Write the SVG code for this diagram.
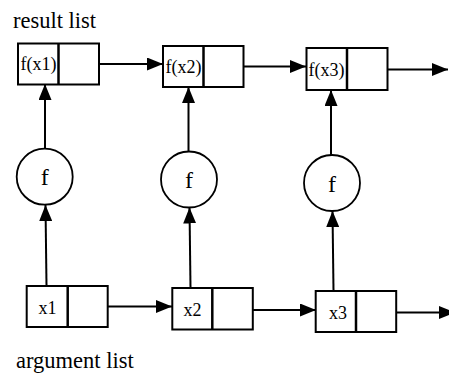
<svg xmlns="http://www.w3.org/2000/svg" width="449" height="375" viewBox="0 0 449 375">
  <style>
    .cell { fill: #fff; stroke: #000; stroke-width: 2; }
    .div { stroke: #000; stroke-width: 2.5; }
    .circ { fill: #fff; stroke: #000; stroke-width: 1.8; }
    .conn { stroke: #000; stroke-width: 2; fill: none; }
    text { font-family: "Times New Roman", "Liberation Serif", Tinos, "DejaVu Serif", serif; fill: #000; }
    .cap { font-size: 22.5px; }
    .box { font-size: 18px; text-anchor: middle; }
    .fn { font-size: 24px; text-anchor: middle; }
  </style>
  <defs>
    <marker id="ah" markerUnits="userSpaceOnUse" markerWidth="16" markerHeight="13" refX="16" refY="6.5" orient="auto">
      <path d="M0,0 L16,6.5 L0,13 z" fill="#000"/>
    </marker>
  </defs>
  <rect width="449" height="375" fill="#fff"/>

  <text class="cap" x="13" y="27.5">result list</text>
  <text class="cap" x="16" y="368">argument list</text>

  <g id="connectors">
    <line class="conn" x1="81" y1="64" x2="163" y2="64" marker-end="url(#ah)"/>
    <line class="conn" x1="226" y1="66.5" x2="306" y2="66.5" marker-end="url(#ah)"/>
    <line class="conn" x1="370" y1="69.5" x2="448" y2="69.5" marker-end="url(#ah)"/>
    <line class="conn" x1="90" y1="306.5" x2="172" y2="306.5" marker-end="url(#ah)"/>
    <line class="conn" x1="235" y1="310" x2="316" y2="310" marker-end="url(#ah)"/>
    <line class="conn" x1="379" y1="312.5" x2="455" y2="312.5" marker-end="url(#ah)"/>
    <line class="conn" x1="45" y1="148.5" x2="45" y2="84" marker-end="url(#ah)"/>
    <line class="conn" x1="188.5" y1="151" x2="188.5" y2="87" marker-end="url(#ah)"/>
    <line class="conn" x1="331" y1="155" x2="331" y2="90" marker-end="url(#ah)"/>
    <line class="conn" x1="46.5" y1="286" x2="45.5" y2="205" marker-end="url(#ah)"/>
    <line class="conn" x1="190.5" y1="288" x2="189.5" y2="207.5" marker-end="url(#ah)"/>
    <line class="conn" x1="333.5" y1="291" x2="332.5" y2="211" marker-end="url(#ah)"/>
  </g>

  <g id="r1">
    <rect class="cell" x="18" y="43.5" width="81" height="41"/>
    <line class="div" x1="58.5" y1="43.5" x2="58.5" y2="84.5"/>
    <text class="box" x="38.5" y="70">f(x1)</text>
  </g>
  <g id="r2">
    <rect class="cell" x="163" y="46" width="80.5" height="41"/>
    <line class="div" x1="203.5" y1="46" x2="203.5" y2="87"/>
    <text class="box" x="183.5" y="72.5">f(x2)</text>
  </g>
  <g id="r3">
    <rect class="cell" x="306.5" y="48" width="81" height="42"/>
    <line class="div" x1="347" y1="48" x2="347" y2="90"/>
    <text class="box" x="326.5" y="75.5">f(x3)</text>
  </g>

  <g id="f1">
    <circle class="circ" cx="44.7" cy="176.7" r="28"/>
    <text class="fn" x="44.7" y="185">f</text>
  </g>
  <g id="f2">
    <circle class="circ" cx="189" cy="179.5" r="28"/>
    <text class="fn" x="189" y="188">f</text>
  </g>
  <g id="f3">
    <circle class="circ" cx="332" cy="183" r="28"/>
    <text class="fn" x="332" y="191.5">f</text>
  </g>

  <g id="a1">
    <rect class="cell" x="26.7" y="286" width="81" height="41"/>
    <line class="div" x1="67.7" y1="286" x2="67.7" y2="327"/>
    <text class="box" x="47.5" y="313.5">x1</text>
  </g>
  <g id="a2">
    <rect class="cell" x="172.3" y="288" width="80.5" height="41.5"/>
    <line class="div" x1="212.3" y1="288" x2="212.3" y2="329.5"/>
    <text class="box" x="192.5" y="316">x2</text>
  </g>
  <g id="a3">
    <rect class="cell" x="315.7" y="291" width="80.5" height="41"/>
    <line class="div" x1="356" y1="291" x2="356" y2="332"/>
    <text class="box" x="338" y="318.5">x3</text>
  </g>
</svg>
